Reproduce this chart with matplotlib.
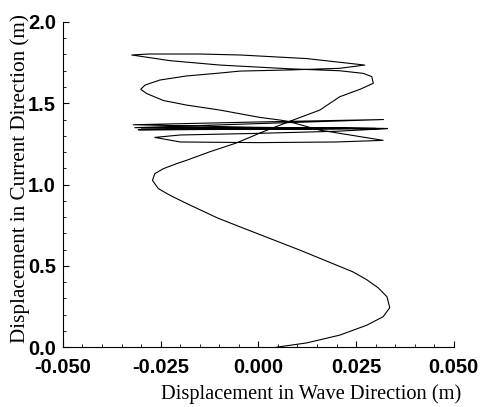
import matplotlib
matplotlib.use("Agg")
import matplotlib.pyplot as plt
from matplotlib.ticker import MultipleLocator, FormatStrFormatter

# Trajectory (wave-direction x, current-direction y), in order
wave_disp = [
    # lower right bulge
    0.0047, 0.0123, 0.0208, 0.0277, 0.0319, 0.0336, 0.0329, 0.0306, 0.0277, 0.0242,
    # straight run up-left
    0.0106, -0.0047, -0.0105,
    # left bulge near 1.0
    -0.0184, -0.0226, -0.0256, -0.0271, -0.0265, -0.0243, -0.0209, -0.0184, -0.0124, -0.0056,
    # up-right to right bulge near 1.6
    0.0012, 0.0089, 0.0157, 0.0208, 0.026, 0.0294, 0.029, 0.0268, 0.0208, 0.008,
    # on to top-left tip
    -0.0098, -0.0226, -0.0324,
    # top line to right tip
    -0.028, -0.015, -0.0047, 0.0123, 0.0272,
    # back left, C-shaped loop near 1.6
    0.0208, 0.008, -0.0047, -0.0098, -0.0184, -0.0252, -0.029, -0.0301, -0.0286, -0.0243,
    -0.0184, -0.0098, 0.0004, 0.0055, 0.008, 0.0157, 0.0234, 0.0319,
    # settling band 1.26 - 1.40
    0.020, 0.0, -0.020, -0.0265, -0.020, 0.0, 0.020, 0.033,
    0.0, -0.032, 0.0, 0.032,
    0.0, -0.0316, 0.0, 0.033,
    0.0, -0.0307, 0.0, 0.032,
    0.0, -0.030, 0.0, 0.030, 0.0,
]
current_disp = [
    0.00, 0.026, 0.074, 0.135, 0.187, 0.243, 0.31, 0.366, 0.415, 0.463,
    0.597, 0.74, 0.795,
    0.884, 0.934, 0.975, 1.026, 1.067, 1.098, 1.129, 1.149, 1.202, 1.256,
    1.325, 1.397, 1.458, 1.54, 1.586, 1.623, 1.664, 1.684, 1.70, 1.712,
    1.735, 1.762, 1.797,
    1.803, 1.803, 1.797, 1.775, 1.735,
    1.715, 1.705, 1.698, 1.686, 1.668, 1.643, 1.612, 1.586, 1.56, 1.517,
    1.489, 1.458, 1.413, 1.397, 1.386, 1.335, 1.305, 1.272,
    1.262, 1.258, 1.262, 1.29, 1.305, 1.315, 1.328, 1.344,
    1.352, 1.368, 1.385, 1.40,
    1.375, 1.35, 1.348, 1.345,
    1.341, 1.337, 1.34, 1.345,
    1.347, 1.35, 1.347, 1.345, 1.345,
]

x_ticks = [-0.050, -0.025, 0.000, 0.025, 0.050]
y_ticks = [0.0, 0.5, 1.0, 1.5, 2.0]

fig = plt.figure(figsize=(4.88, 4.07), dpi=100)
ax = fig.add_axes([0.129, 0.147, 0.801, 0.799])

ax.plot(wave_disp, current_disp, color="black", linewidth=0.8)

ax.set_xlim(-0.05, 0.05)
ax.set_ylim(0.0, 2.0)
ax.set_xticks(x_ticks)
ax.set_yticks(y_ticks)
ax.xaxis.set_major_formatter(FormatStrFormatter("%.3f"))
ax.yaxis.set_major_formatter(FormatStrFormatter("%.1f"))
ax.xaxis.set_minor_locator(MultipleLocator(0.005))
ax.yaxis.set_minor_locator(MultipleLocator(0.1))

for s in ["top", "right"]:
    ax.spines[s].set_visible(False)
for s in ["left", "bottom"]:
    ax.spines[s].set_linewidth(0.8)

ax.tick_params(which="major", direction="in", length=4.5, width=0.8)
ax.tick_params(which="minor", direction="in", length=2, width=0.6)
ax.tick_params(axis="x", which="major", pad=8)
ax.tick_params(axis="y", which="major", pad=5)
for lab in ax.get_xticklabels() + ax.get_yticklabels():
    lab.set_fontfamily("Liberation Sans")
    lab.set_fontweight("bold")
    lab.set_fontsize(14.5)

ax.set_xlabel("Displacement in Wave Direction (m)", fontfamily="Liberation Serif", fontsize=14.7)
ax.set_ylabel("Displacement in Current Direction (m)", fontfamily="Liberation Serif", fontsize=15.2)
ax.xaxis.set_label_coords(0.634, -0.113)
ax.yaxis.set_label_coords(-0.085, 0.52)

fig.savefig("out.png", dpi=100)
